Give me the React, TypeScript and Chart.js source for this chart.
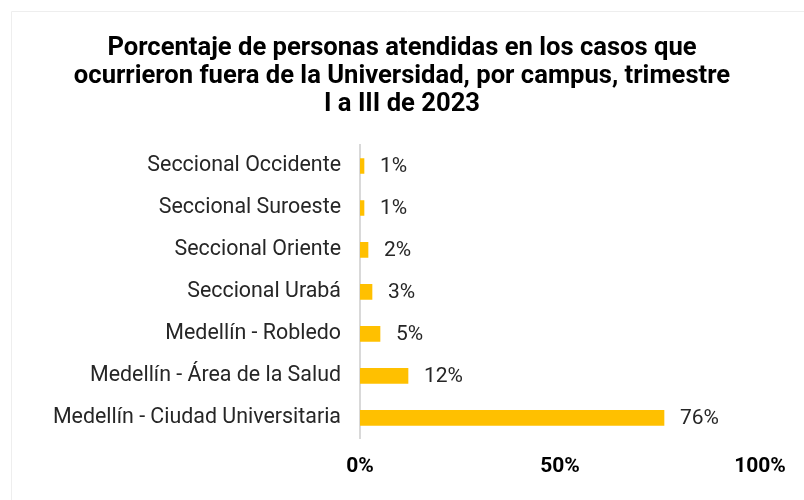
import React, { useEffect, useRef } from "react";
import { Chart, registerables } from "chart.js";

Chart.register(...registerables);

const categories = [
  "Seccional Occidente",
  "Seccional Suroeste",
  "Seccional Oriente",
  "Seccional Urabá",
  "Medellín - Robledo",
  "Medellín - Área de la Salud",
  "Medellín - Ciudad Universitaria",
];
const values = [1, 1, 2, 3, 5, 12, 76];
const valueLabels = ["1%", "1%", "2%", "3%", "5%", "12%", "76%"];
const titleLines = [
  "Porcentaje de personas atendidas en los casos que",
  "ocurrieron fuera de la Universidad, por campus, trimestre",
  "I a III de 2023",
];

const FONT = "Roboto, 'Noto Sans', sans-serif";

const framePlugin = {
  id: "frame",
  beforeDraw(chart: any) {
    const ctx = chart.ctx;
    ctx.save();
    ctx.fillStyle = "#ffffff";
    ctx.fillRect(0, 0, chart.width, chart.height);
    ctx.strokeStyle = "#eeeeee";
    ctx.lineWidth = 1;
    ctx.beginPath();
    ctx.moveTo(11.5, chart.height);
    ctx.lineTo(11.5, 11.5);
    ctx.lineTo(chart.width, 11.5);
    ctx.stroke();
    ctx.restore();
  },
};

const valueLabelPlugin = {
  id: "valueLabels",
  afterDatasetsDraw(chart: any) {
    const ctx = chart.ctx;
    const meta = chart.getDatasetMeta(0);
    ctx.save();
    ctx.font = `21px ${FONT}`;
    ctx.fillStyle = "#262626";
    ctx.textAlign = "left";
    ctx.textBaseline = "middle";
    meta.data.forEach((bar: any, i: number) => {
      ctx.fillText(valueLabels[i], bar.x + 16, bar.y + 1);
    });
    ctx.restore();
  },
};

export default function App() {
  const ref = useRef<HTMLCanvasElement | null>(null);
  useEffect(() => {
    if (!ref.current) return;
    const chart = new Chart(ref.current, {
      type: "bar",
      data: {
        labels: categories,
        datasets: [
          {
            data: values,
            backgroundColor: "#FFC000",
            barThickness: 15,
          },
        ],
      },
      options: {
        indexAxis: "y",
        animation: false,
        responsive: false,
        maintainAspectRatio: false,
        layout: { padding: { top: 0, right: 44, bottom: 6, left: 44 } },
        plugins: {
          legend: { display: false },
          tooltip: { enabled: false },
          title: {
            display: true,
            text: titleLines,
            color: "#000000",
            font: { family: FONT, size: 25.6, weight: "bold", lineHeight: "28px" },
            padding: { top: 35, bottom: 26 },
          },
        },
        scales: {
          x: {
            min: 0,
            max: 100,
            ticks: {
              stepSize: 50,
              callback: (v: any) => v + "%",
              color: "#000000",
              font: { family: FONT, size: 21, weight: "bold" },
              padding: 15,
            },
            grid: { display: false, drawTicks: false },
            border: { display: false },
          },
          y: {
            afterFit: (s: any) => {
              s.width = 316;
            },
            ticks: {
              color: "#262626",
              font: { family: FONT, size: 21.4 },
              padding: 19,
            },
            grid: { display: false, drawTicks: false },
            border: { display: true, color: "#d9d9d9", width: 2 },
          },
        },
      },
      plugins: [framePlugin, valueLabelPlugin],
    });
    return () => chart.destroy();
  }, []);
  return (
    <div style={{ position: "fixed", left: 0, top: 0, width: 804, height: 500 }}>
      <canvas ref={ref} width={804} height={500} style={{ width: 804, height: 500 }} />
    </div>
  );
}
